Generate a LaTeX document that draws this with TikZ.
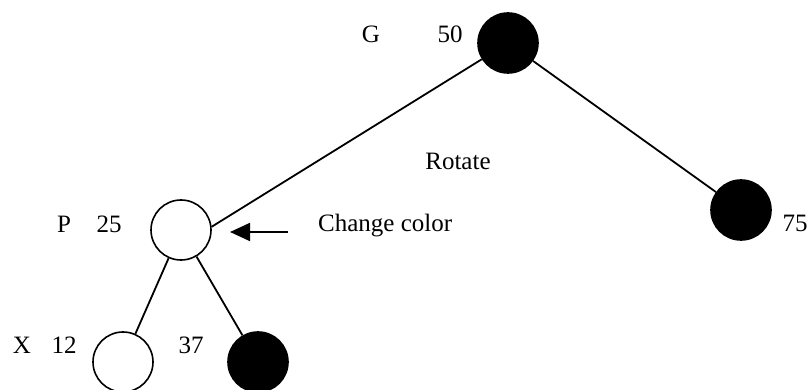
\documentclass[tikz,border=0pt]{standalone}
\usepackage{fontspec}
\setmainfont{Liberation Serif}
\usetikzlibrary{arrows.meta}
\begin{document}
\begin{tikzpicture}[x=1pt,y=-1pt,
  every node/.style={font=\fontsize{25}{30}\selectfont},
  rbnode/.style={circle,draw=black,line width=1.6pt,minimum size=60pt,inner sep=0pt},
  blacknode/.style={rbnode,fill=black},
  whitenode/.style={rbnode,fill=white},
  lbl/.style={anchor=base,inner sep=0pt},
  edge/.style={line width=1.8pt},
  pointer/.style={line width=1.8pt,-{Triangle[length=20pt,width=18pt]}}]
\useasboundingbox (0,0) rectangle (809,390);

% tree nodes
\node[blacknode] (G)  at (508,43)  {};
\node[blacknode] (N75) at (741,210) {};
\node[whitenode] (P)  at (181,230) {};
\node[whitenode] (X)  at (123,362) {};
\node[blacknode] (N37) at (258,362) {};

% links
\draw[edge] (P.6) -- (G);
\draw[edge] (G) -- (N75);
\draw[edge] (P) -- (X);
\draw[edge] (P) -- (N37);

% labels
\node[lbl] (lG)   at (371,43)  {G};
\node[lbl] (l50)  at (450,43)  {50};
\node[lbl] (lP)   at (64,233)  {P};
\node[lbl] (l25)  at (109,233) {25};
\node[lbl] (l75)  at (795,232) {75};
\node[lbl] (lX)   at (22,353)  {X};
\node[lbl] (l12)  at (64,353)  {12};
\node[lbl] (l37)  at (191,353) {37};
\node[lbl] (rot)  at (458,170) {Rotate};
\node[lbl,anchor=base west] (chg) at (318,232) {Change color};

% arrow pointing at the recoloured node
\coordinate (tail) at (288,232);
\coordinate (tip) at (230,232);
\draw[pointer] (tail) -- (tip);
\end{tikzpicture}
\end{document}
